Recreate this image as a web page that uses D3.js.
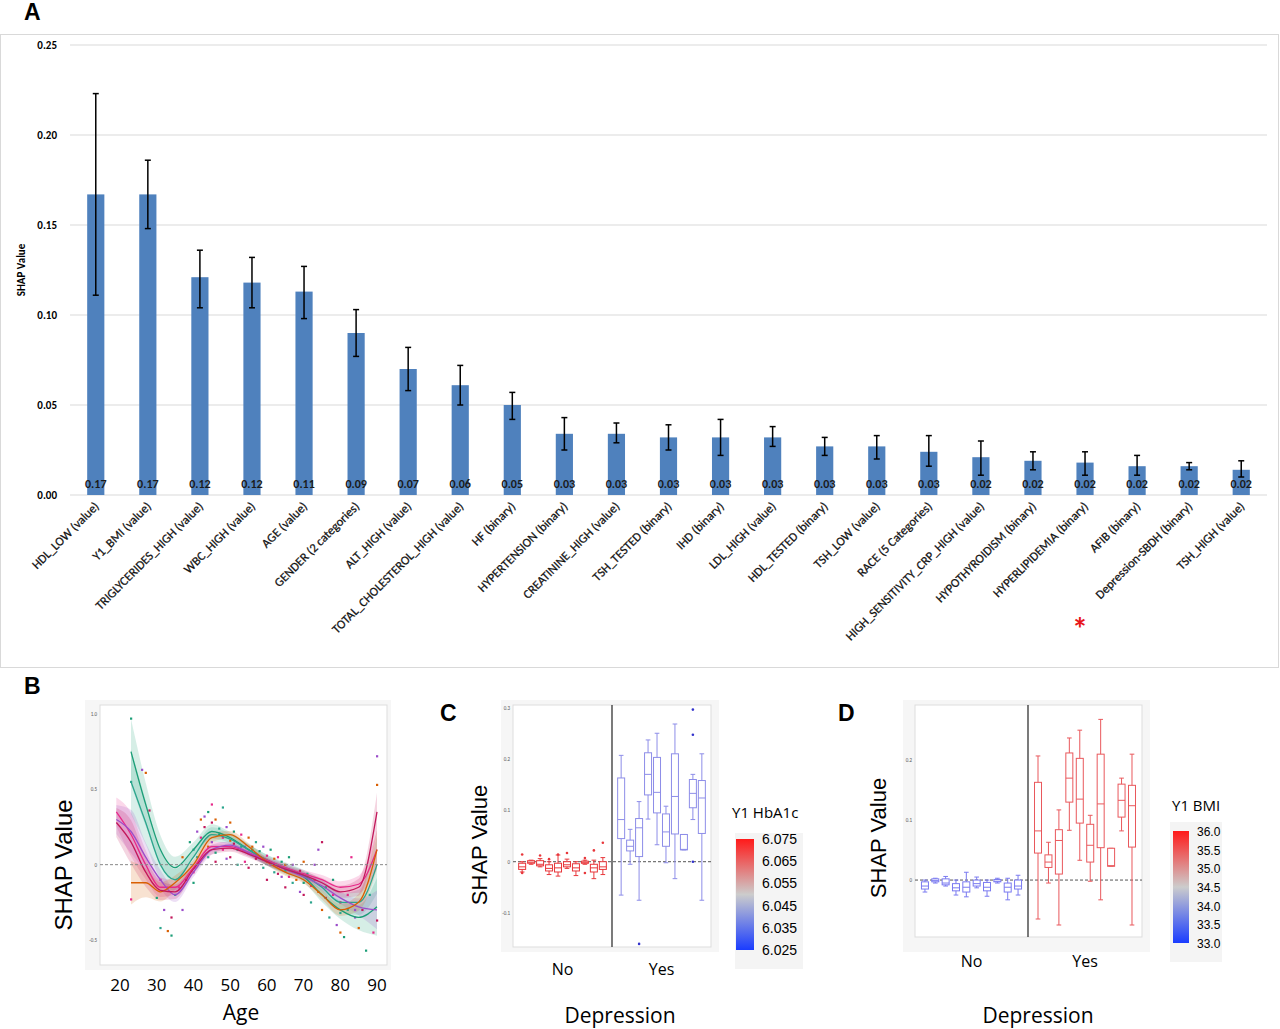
<!DOCTYPE html>
<html><head><meta charset="utf-8">
<script src="https://cdn.jsdelivr.net/npm/d3@7"></script>
<style>body{margin:0;background:#fff}svg{display:block;font-family:Calibri,Carlito,"Liberation Sans",Arial,sans-serif}</style>
</head><body><svg width="1280" height="1029"></svg>
<script>
// Panel A data
const features = ["HDL_LOW (value)","Y1_BMI (value)","TRIGLYCERIDES_HIGH (value)","WBC_HIGH (value)","AGE (value)","GENDER (2 categories)","ALT_HIGH (value)","TOTAL_CHOLESTEROL_HIGH (value)","HF (binary)","HYPERTENSION (binary)","CREATININE_HIGH (value)","TSH_TESTED (binary)","IHD (binary)","LDL_HIGH (value)","HDL_TESTED (binary)","TSH_LOW (value)","RACE (5 Categories)","HIGH_SENSITIVITY_CRP_HIGH (value)","HYPOTHYROIDISM (binary)","HYPERLIPIDEMIA (binary)","AFIB (binary)","Depression-SBDH (binary)","TSH_HIGH (value)"];
const shapMean = [0.167,0.167,0.121,0.118,0.113,0.090,0.070,0.061,0.050,0.034,0.034,0.032,0.032,0.032,0.027,0.027,0.024,0.021,0.019,0.018,0.016,0.016,0.014];
const errHigh = [0.223,0.186,0.136,0.132,0.127,0.103,0.082,0.072,0.057,0.043,0.040,0.039,0.042,0.038,0.032,0.033,0.033,0.030,0.024,0.024,0.022,0.018,0.019];
const errLow = [0.111,0.148,0.104,0.104,0.098,0.077,0.058,0.050,0.042,0.025,0.029,0.025,0.022,0.027,0.022,0.020,0.016,0.011,0.014,0.011,0.011,0.014,0.010];
const valueLabels = ["0.17","0.17","0.12","0.12","0.11","0.09","0.07","0.06","0.05","0.03","0.03","0.03","0.03","0.03","0.03","0.03","0.03","0.02","0.02","0.02","0.02","0.02","0.02"];
const yTicksA = [0,0.05,0.10,0.15,0.20,0.25];

// Panel B data: smoothed curves at these ages
const curveAges = [19,23,27,31,35,40,45,50,55,60,65,70,75,80,85,90];
const curveColors = ["#1b9e77","#2ca58d","#e7298a","#9b4dca","#d95f02","#c2185b"];
const curveTeal   = [null,0.75,0.40,0.10,-0.02,0.10,0.22,0.18,0.10,0.03,-0.03,-0.08,-0.20,-0.30,-0.35,-0.28];
const curveGreen  = [null,0.55,0.28,0.00,-0.10,0.05,0.20,0.17,0.10,0.03,-0.02,-0.07,-0.15,-0.25,-0.25,0.00];
const curveMagenta= [0.35,0.20,0.00,-0.15,-0.15,-0.02,0.12,0.12,0.08,0.03,-0.02,-0.06,-0.10,-0.15,-0.13,0.10];
const curvePurple = [0.30,0.22,0.05,-0.10,-0.20,-0.05,0.10,0.13,0.08,0.02,-0.03,-0.08,-0.14,-0.22,-0.28,-0.30];
const curveOrange = [null,-0.12,-0.12,-0.18,-0.12,0.00,0.18,0.20,0.12,0.02,-0.05,-0.10,-0.20,-0.30,-0.25,0.10];
const curvePink   = [0.28,0.15,-0.05,-0.17,-0.18,-0.03,0.10,0.11,0.07,0.02,-0.03,-0.07,-0.12,-0.18,-0.15,0.35];
const bandHalf    = [0.12,0.18,0.12,0.08,0.06,0.04,0.04,0.03,0.03,0.03,0.03,0.03,0.04,0.05,0.07,0.16];
const scatterAge = [23,23,23,26,27,28,30,31,31,32,33,34,34,35,36,37,37,38,39,40,40,41,42,43,44,44,45,45,46,46,47,48,48,49,50,50,51,52,53,54,55,55,56,57,58,59,60,60,61,62,63,64,65,65,66,67,68,69,70,70,71,72,73,74,75,75,76,77,78,79,80,80,81,82,83,84,85,86,87,88,89,90,90,90,
  40,41,42,43,44,45,46,47,48,49,50,51,52,53,54,55,56,57,58,59,60,61,62,63,64,65,66,67,68,69,70,71,72,73,74,76,78,80,82,84];
const scatterVal = [0.97,0.55,-0.23,0.63,0.61,0.36,-0.22,-0.42,-0.10,-0.30,-0.44,-0.35,-0.47,-0.20,-0.15,-0.30,0.05,-0.10,0.15,0.10,-0.05,0.22,0.30,0.25,0.35,0.05,0.40,0.15,0.30,0.02,0.20,0.38,0.10,0.25,0.28,0.05,0.22,0.00,0.20,0.12,0.18,-0.02,0.10,0.15,0.05,0.12,0.02,-0.10,0.10,-0.05,0.05,-0.08,0.00,-0.15,0.05,-0.12,-0.05,-0.18,0.02,-0.20,-0.08,-0.25,-0.10,0.10,-0.30,0.15,-0.15,-0.35,-0.20,-0.40,-0.45,-0.25,-0.48,-0.30,0.05,-0.35,-0.42,-0.30,-0.57,-0.20,-0.45,0.72,0.53,-0.37,
  -0.12,0.05,0.18,0.32,0.12,0.28,0.08,0.24,0.18,0.04,0.16,0.14,0.10,0.12,0.02,0.08,0.12,0.04,0.09,-0.02,0.06,0.00,0.04,-0.06,0.02,-0.04,-0.08,0.00,-0.10,-0.04,-0.12,-0.06,-0.14,0.00,-0.18,-0.22,-0.10,-0.32,-0.20,-0.30];
const ageTicks = [20,30,40,50,60,70,80,90];

// Panels C/D data: box stats [min, q1, median, q3, max]
const noBoxes = [[-0.020,-0.015,-0.010,-0.003,0.000],[-0.005,-0.003,-0.001,0.002,0.003],[-0.010,-0.008,-0.005,0.002,0.006],[-0.025,-0.018,-0.013,-0.006,0.000],[-0.028,-0.020,-0.012,-0.003,0.013],[-0.013,-0.010,-0.006,0.000,0.005],[-0.027,-0.018,-0.012,-0.004,0.000],[-0.005,-0.003,-0.002,0.001,0.003],[-0.033,-0.020,-0.012,-0.005,0.003],[-0.025,-0.015,-0.010,0.000,0.008]];
const yesBoxes = [[-0.065,0.045,0.082,0.163,0.207],[-0.005,0.021,0.030,0.042,0.063],[-0.075,0.010,0.066,0.084,0.117],[0.083,0.130,0.170,0.212,0.237],[0.033,0.095,0.135,0.203,0.250],[-0.002,0.030,0.058,0.093,0.108],[-0.033,0.054,0.127,0.210,0.268],[0.023,0.023,0.024,0.053,0.053],[0.082,0.105,0.133,0.160,0.170],[-0.075,0.055,0.124,0.158,0.210]];
const noOutliersC = [[0,0.014],[0,-0.022],[2,0.012],[3,0.005],[4,0.014],[5,0.017],[7,0.007],[7,-0.022],[8,0.022],[9,0.037]];
const yesOutliersC = [[2,-0.16],[8,0.0],[8,0.247],[8,0.296]];
const hba1cTicks = ["6.075","6.065","6.055","6.045","6.035","6.025"];
const bmiTicks = ["36.0","35.5","35.0","34.5","34.0","33.5","33.0"];

const svg = d3.select("svg");
const fmt2 = d3.format(".2f");

// ---------------- Panel A ----------------
svg.append("rect").attr("x",0.5).attr("y",34.5).attr("width",1278).attr("height",633).attr("fill","#fff").attr("stroke","#d9d9d9");
svg.append("text").attr("x",24).attr("y",20).attr("font-size",23).attr("font-weight","bold").attr("font-family","Arial").text("A");
const yA = d3.scaleLinear().domain([0,0.25]).range([495,45]);
const xA = d3.scaleBand().domain(features).range([70,1267]).paddingInner(0.67).paddingOuter(0.33);
const gA = svg.append("g");
gA.selectAll(".grid").data(yTicksA).enter().append("line")
  .attr("x1",70).attr("x2",1267).attr("y1",d=>yA(d)).attr("y2",d=>yA(d))
  .attr("stroke","#d9d9d9");
gA.selectAll(".ytl").data(yTicksA).enter().append("text")
  .attr("x",57).attr("y",d=>yA(d)+4).attr("text-anchor","end").attr("font-size",11).attr("font-weight","bold")
  .text(fmt2);
gA.append("text").attr("transform","translate(25,270) rotate(-90)").attr("text-anchor","middle")
  .attr("font-size",11).attr("font-weight","bold").text("SHAP Value");
gA.selectAll(".bar").data(shapMean).enter().append("rect")
  .attr("x",(d,i)=>xA(features[i])).attr("width",xA.bandwidth())
  .attr("y",d=>yA(d)).attr("height",d=>yA(0)-yA(d)).attr("fill","#4f81bd");
features.forEach((f,i)=>{
  const cx = xA(f)+xA.bandwidth()/2;
  gA.append("line").attr("x1",cx).attr("x2",cx).attr("y1",yA(errHigh[i])).attr("y2",yA(errLow[i])).attr("stroke","#000").attr("stroke-width",1.5);
  [errHigh[i],errLow[i]].forEach(v=>gA.append("line").attr("x1",cx-3).attr("x2",cx+3).attr("y1",yA(v)).attr("y2",yA(v)).attr("stroke","#000").attr("stroke-width",1.5));
  gA.append("text").attr("x",cx).attr("y",488).attr("text-anchor","middle").attr("font-size",12).attr("font-weight","bold").attr("fill","#1a1a1a").text(valueLabels[i]);
  gA.append("text").attr("transform",`translate(${cx+4},${507}) rotate(-45)`).attr("text-anchor","end")
    .attr("font-size",12.5).attr("fill","#111").attr("stroke","#111").attr("stroke-width",0.25).text(f);
});
// red asterisk by Depression label
gA.append("text").attr("x",1080).attr("y",640).attr("text-anchor","middle").attr("font-size",32).attr("font-weight","bold").attr("fill","#e8141b").text("*");

// ---------------- Panel B ----------------
svg.append("text").attr("x",24).attr("y",694).attr("font-size",23).attr("font-weight","bold").attr("font-family","Arial").text("B");
svg.append("rect").attr("x",85).attr("y",700).attr("width",306).attr("height",270).attr("fill","#f6f6f6");
svg.append("rect").attr("x",100).attr("y",705).attr("width",287).attr("height",260).attr("fill","#fff").attr("stroke","#ddd");
const xB = d3.scaleLinear().domain([20,90]).range([120,377]);
const yB = d3.scaleLinear().domain([-0.5,1.0]).range([940,714]);
const gB = svg.append("g");
[1.0,0.5,0,-0.5].forEach(v=>gB.append("text").attr("x",97).attr("y",yB(v)+2).attr("text-anchor","end").attr("font-size",5).attr("fill","#555").text(v===0?"0":v.toFixed(1)));
const curves = [curveTeal,curveGreen,curveMagenta,curvePurple,curveOrange,curvePink];
const area = d3.area().defined(d=>d.v!==null).x(d=>xB(d.a)).y0(d=>yB(d.v-d.h)).y1(d=>yB(d.v+d.h)).curve(d3.curveMonotoneX);
const line = d3.line().defined(d=>d.v!==null).x(d=>xB(d.a)).y(d=>yB(d.v)).curve(d3.curveMonotoneX);
curves.forEach((c,k)=>{
  const pts = curveAges.map((a,i)=>({a,v:c[i],h:bandHalf[i]*(k<2?1.2:0.8)}));
  gB.append("path").datum(pts).attr("d",area).attr("fill",curveColors[k]).attr("opacity",0.18);
});
gB.selectAll(".pt").data(scatterAge).enter().append("rect")
  .attr("x",d=>xB(d)-1).attr("y",(d,i)=>yB(scatterVal[i])-1).attr("width",2.2).attr("height",2.2)
  .attr("fill",(d,i)=>curveColors[i%curveColors.length]);
curves.forEach((c,k)=>{
  const pts = curveAges.map((a,i)=>({a,v:c[i]}));
  gB.append("path").datum(pts).attr("d",line).attr("fill","none").attr("stroke",curveColors[k]).attr("stroke-width",1.3);
});
gB.append("line").attr("x1",100).attr("x2",387).attr("y1",yB(0)).attr("y2",yB(0)).attr("stroke","#888").attr("stroke-dasharray","3,2");
ageTicks.forEach(t=>gB.append("text").attr("x",xB(t)).attr("y",991).attr("text-anchor","middle").attr("font-size",17).attr("font-family","Open Sans, sans-serif").text(t));
gB.append("text").attr("x",241).attr("y",1020).attr("text-anchor","middle").attr("font-size",21).attr("font-family","Open Sans, sans-serif").text("Age");
gB.append("text").attr("transform","translate(72,865) rotate(-90)").attr("text-anchor","middle").attr("font-size",24).attr("font-family","Liberation Sans, Arial").text("SHAP Value");

// ---------------- Panels C & D ----------------
function boxPanel(o){
  const g = svg.append("g");
  g.append("text").attr("x",o.letterX).attr("y",721).attr("font-size",23).attr("font-weight","bold").attr("font-family","Arial").text(o.letter);
  g.append("rect").attr("x",o.x0-12).attr("y",700).attr("width",o.x1-o.x0+20).attr("height",252).attr("fill","#f6f6f6");
  g.append("rect").attr("x",o.x0).attr("y",705).attr("width",o.x1-o.x0).attr("height",o.bottom-705).attr("fill","#fff").attr("stroke","#ddd");
  const y = d3.scaleLinear().domain(o.domain).range([o.bottom,705]);
  o.ticks.forEach(v=>g.append("text").attr("x",o.x0-3).attr("y",y(v)+2).attr("text-anchor","end").attr("font-size",5).attr("fill","#555").text(v===0?"0":v.toFixed(1)));
  g.append("line").attr("x1",o.x0).attr("x2",o.x1).attr("y1",y(0)).attr("y2",y(0)).attr("stroke","#555").attr("stroke-dasharray","3,2");
  g.append("line").attr("x1",o.div).attr("x2",o.div).attr("y1",705).attr("y2",o.bottom).attr("stroke","#333").attr("stroke-width",1.3);
  const xNo = d3.scaleBand().domain(d3.range(noBoxes.length)).range([o.x0+4,o.div-4]).padding(0.15);
  const xYes = d3.scaleBand().domain(d3.range(yesBoxes.length)).range([o.div+4,o.x1-4]).padding(0.15);
  function draw(boxes,x,col,w){
    boxes.forEach((b,i)=>{
      const cx = x(i)+x.bandwidth()/2;
      g.append("line").attr("x1",cx).attr("x2",cx).attr("y1",y(b[0])).attr("y2",y(b[4])).attr("stroke",col);
      [b[0],b[4]].forEach(v=>g.append("line").attr("x1",cx-w/3).attr("x2",cx+w/3).attr("y1",y(v)).attr("y2",y(v)).attr("stroke",col));
      g.append("rect").attr("x",cx-w/2).attr("y",y(b[3])).attr("width",w).attr("height",Math.max(1,y(b[1])-y(b[3]))).attr("fill","#fff").attr("stroke",col);
      g.append("line").attr("x1",cx-w/2).attr("x2",cx+w/2).attr("y1",y(b[2])).attr("y2",y(b[2])).attr("stroke",col);
    });
  }
  draw(noBoxes,xNo,o.noCol,7);
  draw(yesBoxes,xYes,o.yesCol,7);
  (o.noOut||[]).forEach(p=>g.append("circle").attr("cx",xNo(p[0])+xNo.bandwidth()/2).attr("cy",y(p[1])).attr("r",1.3).attr("fill",o.noCol));
  (o.yesOut||[]).forEach(p=>g.append("circle").attr("cx",xYes(p[0])+xYes.bandwidth()/2).attr("cy",y(p[1])).attr("r",1.3).attr("fill","#33c"));
  const fs = "Open Sans, sans-serif";
  g.append("text").attr("x",(o.x0+o.div)/2).attr("y",o.catY).attr("text-anchor","middle").attr("font-size",16).attr("font-family",fs).text("No");
  g.append("text").attr("x",(o.div+o.x1)/2).attr("y",o.catY).attr("text-anchor","middle").attr("font-size",16).attr("font-family",fs).text("Yes");
  g.append("text").attr("x",o.depX).attr("y",1023).attr("text-anchor","middle").attr("font-size",21).attr("font-family",fs).text("Depression");
  g.append("text").attr("transform",`translate(${o.labX},${o.labY}) rotate(-90)`).attr("text-anchor","middle").attr("font-size",22).attr("font-family","Liberation Sans, Arial").text("SHAP Value");
  // color legend
  const L = o.leg;
  g.append("rect").attr("x",L.bx).attr("y",L.by).attr("width",L.bw).attr("height",L.bh).attr("fill","#f4f4f4");
  g.append("text").attr("x",L.tx).attr("y",L.ty).attr("font-size",15).attr("font-family",fs).text(o.legTitle);
  const gid = "grad"+o.letter;
  const grad = svg.append("defs").append("linearGradient").attr("id",gid).attr("x1",0).attr("x2",0).attr("y1",0).attr("y2",1);
  [["0%","#ff1a1a"],["50%","#cccccc"],["100%","#1a3cff"]].forEach(s=>grad.append("stop").attr("offset",s[0]).attr("stop-color",s[1]));
  g.append("rect").attr("x",L.gx).attr("y",L.gy).attr("width",L.gw).attr("height",L.gh).attr("fill",`url(#${gid})`);
  const ly = d3.scalePoint().domain(o.legTicks).range([L.gy,L.gy+L.gh]);
  o.legTicks.forEach(t=>g.append("text").attr("x",L.gx+L.gw+8).attr("y",ly(t)+5).attr("font-size",L.fs).attr("font-family","Liberation Sans, Arial").text(t));
}
boxPanel({letter:"C",letterX:440,x0:513,x1:711,div:612,bottom:947,domain:[-0.166,0.305],ticks:[0.3,0.2,0.1,0,-0.1],
  noCol:"#e8373b",yesCol:"#8d8de8",noOut:noOutliersC,yesOut:yesOutliersC,catY:975,depX:620,labX:487,labY:845,
  legTitle:"Y1 HbA1c",legTicks:hba1cTicks,leg:{bx:735,by:833,bw:68,bh:136,tx:732,ty:818,gx:736,gy:839,gw:18,gh:111,fs:14}});
boxPanel({letter:"D",letterX:838,x0:915,x1:1142,div:1028,bottom:937,domain:[-0.095,0.292],ticks:[0.2,0.1,0],
  noCol:"#7a7af0",yesCol:"#e9585c",catY:967,depX:1038,labX:886,labY:838,
  legTitle:"Y1 BMI",legTicks:bmiTicks,leg:{bx:1170,by:822,bw:52,bh:140,tx:1172,ty:811,gx:1173,gy:831,gw:16,gh:112,fs:12}});
</script></body></html>
